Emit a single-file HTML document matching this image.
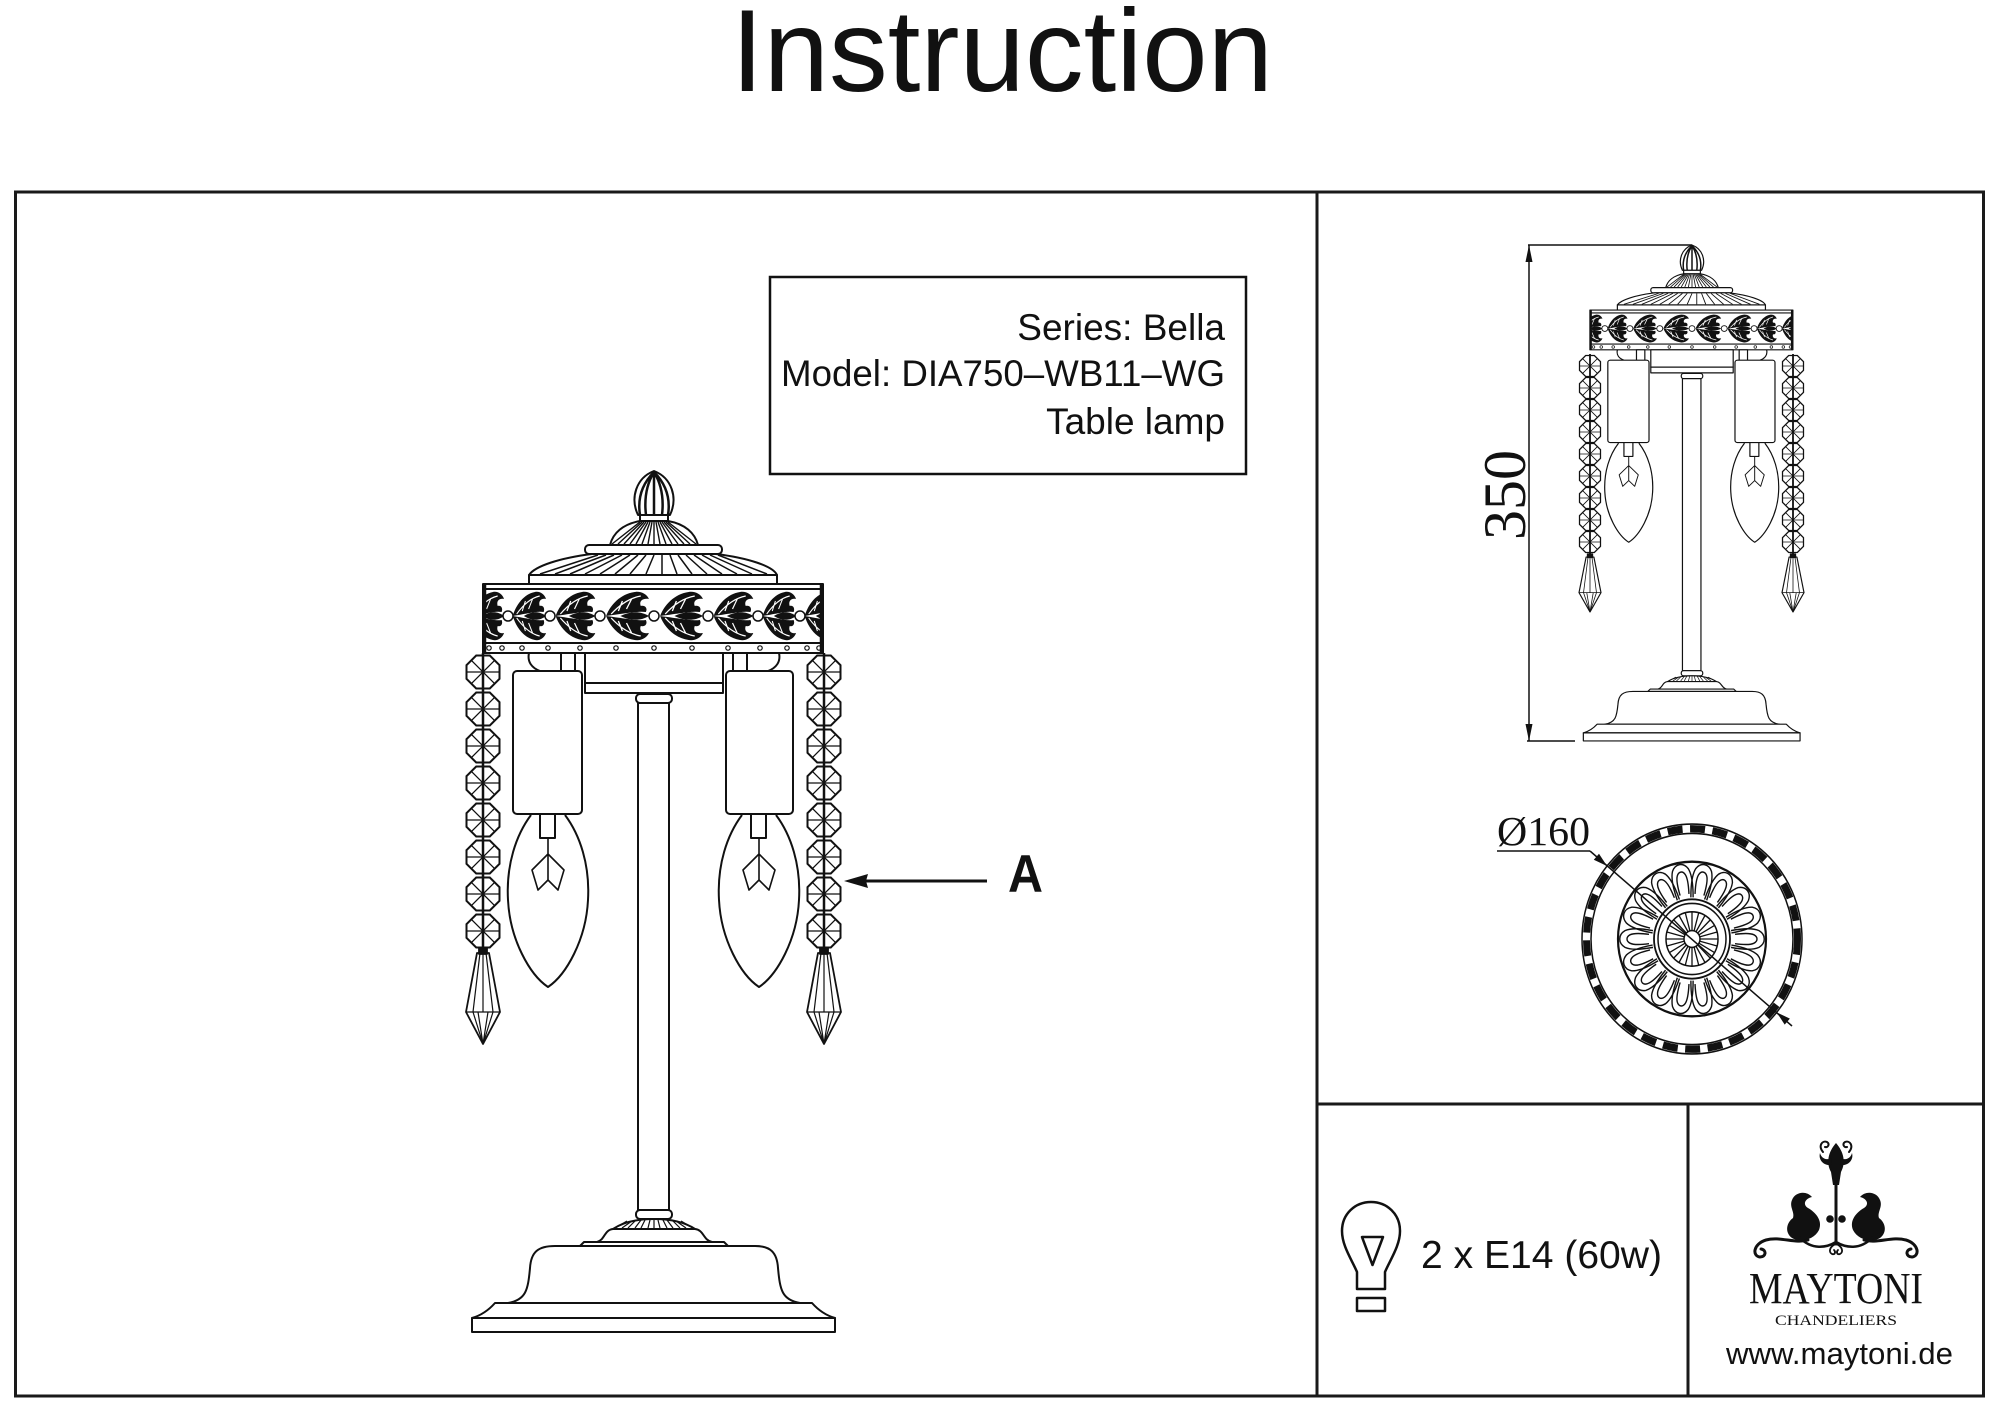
<!DOCTYPE html>
<html><head><meta charset="utf-8"><style>
html,body{margin:0;padding:0;background:#fff;}
svg{display:block;}
.sans{font-family:"Liberation Sans",Arial,sans-serif;}
.serif{font-family:"Liberation Serif","Times New Roman",serif;}
</style></head><body>
<svg width="2000" height="1414" viewBox="0 0 2000 1414" xmlns="http://www.w3.org/2000/svg">
<defs>
<g id="oct"><polygon points="-6.8,-16.5 6.8,-16.5 16.5,-6.8 16.5,6.8 6.8,16.5 -6.8,16.5 -16.5,6.8 -16.5,-6.8" fill="#fff" stroke="#111" stroke-width="2"/><path d="M0,-16.5V16.5M-16.5,0H16.5M-11.7,-11.7L11.7,11.7M11.7,-11.7L-11.7,11.7" stroke="#111" stroke-width="1.3" fill="none"/></g>
<g id="pend" fill="none" stroke="#111" stroke-width="1.8" stroke-linejoin="round"><path fill="#fff" d="M-6,0 L6,0 L17,59 L0,91 L-17,59 Z"/><path d="M-3,0 L-10,59 M0,0 L0,59 M3,0 L10,59 M-17,59 H17 M-10,59 L0,91 M-5,59 L0,91 M5,59 L0,91 M10,59 L0,91" stroke-width="1.2"/><rect x="-4" y="-5" width="8" height="6" fill="#111"/></g>
<g id="bulb" fill="none" stroke="#111" stroke-width="2">
<path d="M-17,1 C-32,21 -42,51 -40,86 C-38,126 -18,161 0,173 C18,161 38,126 40,86 C42,51 32,21 17,1"/>
<rect x="-8" y="0" width="15" height="24" fill="#fff"/>
<path d="M0,24 V66 M0,40 L-16,56 L-10,76 L0,66 L10,76 L16,56 Z" stroke-width="1.6"/>
</g>
<g id="motif">
<path fill="#111" d="M6,27 C10,16 20,5 34,3 C40,2 46,5 48,10 C42,9 38,12 40,17 C44,16 47,19 45,23 C38,22 28,24 6,27 Z"/>
<path fill="#111" d="M6,27 C10,38 20,49 34,51 C40,52 46,49 48,44 C42,45 38,42 40,37 C44,38 47,35 45,31 C38,32 28,30 6,27 Z"/>
<path fill="none" stroke="#fff" stroke-width="1.3" d="M11,25 C20,15 29,9 40,7 M11,29 C20,39 29,45 40,47 M18,22 L22,12 M26,20 L31,10 M18,32 L22,42 M26,34 L31,44"/>
<path fill="#111" d="M20,27 C30,22 40,22 48,27 C40,32 30,32 20,27 Z"/>
</g>
<clipPath id="bandclip"><rect x="484" y="589" width="338" height="54"/></clipPath>
<g id="petal" fill="none" stroke="#111" stroke-width="1.4"><path d="M39,-8 C50,-10 60,-11 67,-8 C74,-4 74,4 67,8 C60,11 50,10 39,8"/><path d="M43,-4.5 C51,-5.5 58,-6 62,-4 C66,-2 66,2 62,4 C58,6 51,5.5 43,4.5"/></g>

<g id="body" fill="none" stroke="#111" stroke-width="2" stroke-linejoin="round">
<path fill="#fff" d="M654,471 C636,478 630,498 638,515 L670,515 C678,498 672,478 654,471 Z"/>
<path stroke-width="2.5" d="M654,472 Q636,490 640,515 M654,472 Q643,490 646,515 M654,472 L654,515 M654,472 Q665,490 662,515 M654,472 Q672,490 668,515"/>
<rect x="640" y="515" width="28" height="6" fill="#fff"/>
<path fill="#fff" d="M640,521 L668,521 C685,524 695,533 698,545 L610,545 C613,533 623,524 640,521 Z"/>
<path stroke-width="1.4" d="M640,522L612,544M642,522L618,544M644,522L624,544M646,522L630,544M648,522L636,544M650,522L642,544M652,522L648,544M654,522L654,544M656,522L660,544M658,522L666,544M660,522L672,544M662,522L678,544M664,522L684,544M666,522L690,544M668,522L696,544"/>
<rect x="585" y="545" width="137" height="9" rx="4" fill="#fff"/>
<path fill="#fff" d="M529,575 C535,566 560,558 592,554 L716,554 C748,558 773,566 777,575 Z"/>
<path stroke-width="1.5" d="M598,555L540,574M606,555L555,574M614,555L570,574M622,555L585,574M630,555L600,574M638,555L615,574M646,555L630,574M654,555L646,574M662,555L662,574M670,555L677,574M678,555L692,574M686,555L707,574M694,555L722,574M702,555L737,574M710,555L752,574M718,555L767,574"/>
<rect x="529" y="575" width="248" height="9" fill="#fff"/>
<rect x="483" y="584" width="340" height="69" fill="#fff"/>
<line x1="483" y1="589" x2="823" y2="589"/>
<g clip-path="url(#bandclip)" stroke="none">
<use href="#motif" transform="translate(466,589) scale(0.792,1)"/>
<use href="#motif" transform="translate(508,589) scale(0.792,1)"/>
<use href="#motif" transform="translate(550,589) scale(0.943,1)"/>
<use href="#motif" transform="translate(600,589) scale(1.019,1)"/>
<use href="#motif" transform="translate(654,589) scale(1.019,1)"/>
<use href="#motif" transform="translate(708,589) scale(0.943,1)"/>
<use href="#motif" transform="translate(758,589) scale(0.792,1)"/>
<use href="#motif" transform="translate(800,589) scale(0.792,1)"/>
</g>
<g fill="#fff" stroke-width="1.5">
<circle cx="508" cy="616" r="5"/><circle cx="550" cy="616" r="5"/><circle cx="600" cy="616" r="5"/><circle cx="654" cy="616" r="5"/><circle cx="708" cy="616" r="5"/><circle cx="758" cy="616" r="5"/><circle cx="800" cy="616" r="5"/>
</g>
<line x1="483" y1="643" x2="823" y2="643"/>
<g fill="#fff" stroke-width="1.2">
<circle cx="489" cy="648" r="2.2"/><circle cx="502" cy="648" r="2.2"/><circle cx="522" cy="648" r="2.2"/><circle cx="548" cy="648" r="2.2"/><circle cx="580" cy="648" r="2.2"/><circle cx="616" cy="648" r="2.2"/><circle cx="654" cy="648" r="2.2"/><circle cx="692" cy="648" r="2.2"/><circle cx="728" cy="648" r="2.2"/><circle cx="760" cy="648" r="2.2"/><circle cx="787" cy="648" r="2.2"/><circle cx="807" cy="648" r="2.2"/><circle cx="819" cy="648" r="2.2"/>
</g>
<line x1="484.5" y1="584" x2="484.5" y2="653" stroke-width="3.5"/>
<line x1="821.5" y1="584" x2="821.5" y2="653" stroke-width="3.5"/>
<path d="M529,653 C527,662 532,668 540,671 M779,653 C781,662 776,668 768,671"/>
<rect x="561" y="653" width="14" height="19" fill="#fff"/>
<rect x="733" y="653" width="14" height="19" fill="#fff"/>
<rect x="585" y="653" width="138" height="30" fill="#fff"/>
<rect x="585" y="683" width="138" height="10" fill="#fff"/>
<rect x="636" y="694" width="36" height="9" rx="4" fill="#fff"/>
<rect x="638" y="703" width="31" height="507" fill="#fff"/>
<rect x="513" y="671" width="69" height="143" rx="4" fill="#fff"/>
<rect x="726" y="671" width="67" height="143" rx="4" fill="#fff"/>
<use href="#bulb" x="548" y="814"/>
<use href="#bulb" x="759" y="814"/>
<rect x="636" y="1210" width="36" height="9" rx="4" fill="#fff"/>
<path fill="#fff" d="M613,1229 C625,1221 640,1219 654,1219 C668,1219 683,1221 695,1229 Z"/>
<path stroke-width="1.2" d="M627,1221L615,1228M632,1221L622,1228M636,1220L628,1228M641,1220L635,1228M645,1220L641,1228M650,1220L648,1228M654,1220L654,1228M658,1220L660,1228M663,1220L667,1228M667,1220L673,1228M672,1220L680,1228M676,1221L686,1228M681,1221L693,1228"/>
<path fill="#fff" d="M597,1242 C605,1240 604,1230 613,1229 L695,1229 C704,1230 703,1240 712,1242 Z"/>
<path fill="#fff" d="M580,1246 L584,1242 L724,1242 L728,1246 Z"/>
<path fill="#fff" d="M555,1246 L755,1246 C770,1246 777,1252 778,1268 C780,1290 782,1300 800,1303 L508,1303 C526,1300 528,1290 530,1268 C531,1252 538,1246 555,1246 Z"/>
<path fill="#fff" d="M495,1303 L812,1303 C820,1312 828,1316 835,1318 L472,1318 C479,1316 487,1312 495,1303 Z"/>
<rect x="472" y="1318" width="363" height="14" fill="#fff"/>
</g>
</defs>

<rect width="2000" height="1414" fill="#fff"/>

<text class="sans" x="731" y="91" font-size="117" textLength="542" lengthAdjust="spacingAndGlyphs" fill="#111">Instruction</text>

<g fill="none" stroke="#1a1a1a" stroke-width="3">
<rect x="15.5" y="192" width="1968" height="1204"/>
<line x1="1317" y1="192" x2="1317" y2="1396"/>
<line x1="1317" y1="1104" x2="1984" y2="1104"/>
<line x1="1688" y1="1104" x2="1688" y2="1396"/>
</g>

<rect x="770" y="277" width="476" height="197" fill="none" stroke="#111" stroke-width="2.5"/>
<g class="sans" font-size="37" fill="#111" text-anchor="end">
<text x="1225" y="340">Series: Bella</text>
<text x="1225" y="386" textLength="444" lengthAdjust="spacingAndGlyphs">Model: DIA750–WB11–WG</text>
<text x="1225" y="434">Table lamp</text>
</g>

<use href="#body"/>
<g>
<use href="#oct" x="483" y="672"/><use href="#oct" x="483" y="709"/><use href="#oct" x="483" y="746"/><use href="#oct" x="483" y="783"/><use href="#oct" x="483" y="820"/><use href="#oct" x="483" y="857"/><use href="#oct" x="483" y="894"/><use href="#oct" x="483" y="931"/>
<use href="#oct" x="824" y="672"/><use href="#oct" x="824" y="709"/><use href="#oct" x="824" y="746"/><use href="#oct" x="824" y="783"/><use href="#oct" x="824" y="820"/><use href="#oct" x="824" y="857"/><use href="#oct" x="824" y="894"/><use href="#oct" x="824" y="931"/>
<line x1="483" y1="653" x2="483" y2="950" stroke="#111" stroke-width="2.5"/>
<line x1="824" y1="653" x2="824" y2="950" stroke="#111" stroke-width="2.5"/>
<use href="#pend" x="483" y="953"/>
<use href="#pend" x="824" y="953"/>
</g>

<line x1="865" y1="881" x2="987" y2="881" stroke="#111" stroke-width="3"/>
<polygon points="844,881 868,874 866,881 868,888" fill="#111"/>
<text class="sans" x="1008" y="892" font-size="53" font-weight="bold" textLength="35" lengthAdjust="spacingAndGlyphs" fill="#111">A</text>

<use href="#body" transform="translate(1692,245) scale(0.597,0.576) translate(-654,-471)"/>
<g>
<use href="#oct" transform="translate(1590,366) scale(0.636)"/><use href="#oct" transform="translate(1590,388) scale(0.636)"/><use href="#oct" transform="translate(1590,410) scale(0.636)"/><use href="#oct" transform="translate(1590,432) scale(0.636)"/><use href="#oct" transform="translate(1590,454) scale(0.636)"/><use href="#oct" transform="translate(1590,476) scale(0.636)"/><use href="#oct" transform="translate(1590,498) scale(0.636)"/><use href="#oct" transform="translate(1590,520) scale(0.636)"/><use href="#oct" transform="translate(1590,542) scale(0.636)"/>
<use href="#oct" transform="translate(1793,366) scale(0.636)"/><use href="#oct" transform="translate(1793,388) scale(0.636)"/><use href="#oct" transform="translate(1793,410) scale(0.636)"/><use href="#oct" transform="translate(1793,432) scale(0.636)"/><use href="#oct" transform="translate(1793,454) scale(0.636)"/><use href="#oct" transform="translate(1793,476) scale(0.636)"/><use href="#oct" transform="translate(1793,498) scale(0.636)"/><use href="#oct" transform="translate(1793,520) scale(0.636)"/><use href="#oct" transform="translate(1793,542) scale(0.636)"/>
<line x1="1590" y1="354" x2="1590" y2="556" stroke="#111" stroke-width="1.8"/>
<line x1="1793" y1="354" x2="1793" y2="556" stroke="#111" stroke-width="1.8"/>
<use href="#pend" transform="translate(1590,557) scale(0.647,0.604)"/>
<use href="#pend" transform="translate(1793,557) scale(0.647,0.604)"/>
</g>

<g stroke="#111" stroke-width="1.5" fill="none">
<line x1="1528" y1="245" x2="1692" y2="245"/>
<line x1="1527" y1="741" x2="1575" y2="741"/>
<line x1="1529" y1="245" x2="1529" y2="741"/>
</g>
<polygon points="1529,245 1525.5,262 1532.5,262" fill="#111"/>
<polygon points="1529,741 1525.5,724 1532.5,724" fill="#111"/>
<text class="serif" transform="translate(1525,495) rotate(-90)" font-size="60" text-anchor="middle" fill="#111">350</text>

<g transform="translate(1692,939) scale(1,1.045)" fill="none" stroke="#111">
<circle r="110" stroke-width="1.5"/>
<circle r="101" stroke-width="1.5"/>
<circle r="105.5" stroke-width="7" stroke-dasharray="15 7.5"/>
<circle r="74" stroke-width="2.2"/>
<use href="#petal" transform="rotate(0)"/><use href="#petal" transform="rotate(20)"/><use href="#petal" transform="rotate(40)"/><use href="#petal" transform="rotate(60)"/><use href="#petal" transform="rotate(80)"/><use href="#petal" transform="rotate(100)"/><use href="#petal" transform="rotate(120)"/><use href="#petal" transform="rotate(140)"/><use href="#petal" transform="rotate(160)"/><use href="#petal" transform="rotate(180)"/><use href="#petal" transform="rotate(200)"/><use href="#petal" transform="rotate(220)"/><use href="#petal" transform="rotate(240)"/><use href="#petal" transform="rotate(260)"/><use href="#petal" transform="rotate(280)"/><use href="#petal" transform="rotate(300)"/><use href="#petal" transform="rotate(320)"/><use href="#petal" transform="rotate(340)"/>
<circle r="38" stroke-width="1.8"/>
<circle r="34" stroke-width="1.5"/>
<circle r="26" stroke-width="1.5"/>
<path stroke-width="1.3" d="M26,0L-26,0M25.1,6.7L-25.1,-6.7M22.5,13L-22.5,-13M18.4,18.4L-18.4,-18.4M13,22.5L-13,-22.5M6.7,25.1L-6.7,-25.1M0,26L0,-26M-6.7,25.1L6.7,-25.1M-13,22.5L13,-22.5M-18.4,18.4L18.4,-18.4M-22.5,13L22.5,-13M-25.1,6.7L25.1,-6.7"/>
<circle r="8" fill="#fff" stroke-width="1.5"/>
</g>
<g stroke="#111" stroke-width="1.5" fill="none">
<line x1="1497" y1="851" x2="1590" y2="851"/>
<line x1="1590" y1="851" x2="1792" y2="1026"/>
</g>
<polygon points="1607,866 1593.8,859.8 1599,853.8" fill="#111"/>
<polygon points="1776.7,1012.4 1789.9,1018.6 1784.7,1024.6" fill="#111"/>
<text class="serif" x="1497" y="845" font-size="41" textLength="93" lengthAdjust="spacingAndGlyphs" fill="#111">Ø160</text>

<g fill="none" stroke="#111" stroke-width="2.5" stroke-linejoin="round">
<path d="M1357,1289 L1357,1272 C1352,1260 1342,1246 1342,1231 C1342,1214 1355,1202 1371,1202 C1387,1202 1400,1214 1400,1231 C1400,1246 1390,1260 1385,1272 L1385,1289 Z"/>
<path d="M1362,1237 L1383,1237 L1372.5,1265 Z"/>
<rect x="1357" y="1298" width="28" height="13"/>
</g>
<text class="sans" x="1421" y="1268" font-size="39" textLength="241" lengthAdjust="spacingAndGlyphs" fill="#111">2 x E14 (60w)</text>

<g fill="#111" stroke="none">
<path d="M1836,1143 C1828,1152 1826,1163 1831,1172 L1833,1185 L1839,1185 L1841,1172 C1846,1163 1844,1152 1836,1143 Z"/>
<path d="M1831,1165 C1824,1166 1818,1160 1820,1153 C1822,1160 1828,1160 1832,1158 Z"/>
<path d="M1841,1165 C1848,1166 1854,1160 1852,1153 C1850,1160 1844,1160 1840,1158 Z"/>
<path d="M1812,1197 C1806,1190 1795,1192 1792,1200 C1789,1207 1795,1212 1793,1218 C1787,1222 1784,1232 1792,1238 C1800,1243 1814,1240 1819,1230 C1823,1220 1815,1212 1808,1208 C1803,1205 1804,1199 1812,1197 Z"/>
<path d="M1860,1197 C1866,1190 1877,1192 1880,1200 C1883,1207 1877,1212 1879,1218 C1885,1222 1888,1232 1880,1238 C1872,1243 1858,1240 1853,1230 C1849,1220 1857,1212 1864,1208 C1869,1205 1868,1199 1860,1197 Z"/>
<circle cx="1830" cy="1219" r="3.8"/><circle cx="1842" cy="1219" r="3.8"/>
</g>
<g fill="none" stroke="#111" stroke-width="3" stroke-linecap="round">
<line x1="1836" y1="1183" x2="1836" y2="1244"/>
<path d="M1823,1152 C1818,1146 1822,1140 1827,1142 C1830,1144 1828,1148 1825,1147" stroke-width="2"/>
<path d="M1849,1152 C1854,1146 1850,1140 1845,1142 C1842,1144 1844,1148 1847,1147" stroke-width="2"/>
<path d="M1808,1240 C1795,1244 1780,1236 1766,1240 C1753,1244 1752,1256 1760,1257 C1766,1257 1767,1250 1761,1249"/>
<path d="M1864,1240 C1877,1244 1892,1236 1906,1240 C1919,1244 1920,1256 1912,1257 C1906,1257 1905,1250 1911,1249"/>
<path d="M1800,1238 C1812,1250 1826,1248 1836,1242 C1846,1248 1860,1250 1872,1238" stroke-width="2.5"/>
<path d="M1836,1244 C1830,1246 1828,1252 1832,1254 C1835,1255 1836,1252 1834,1250 M1836,1244 C1842,1246 1844,1252 1840,1254 C1837,1255 1836,1252 1838,1250" stroke-width="1.8"/>
</g>
<text class="serif" x="1749" y="1303" font-size="44" textLength="174" lengthAdjust="spacingAndGlyphs" fill="#111">MAYTONI</text>
<text class="serif" x="1775" y="1325" font-size="15" textLength="122" lengthAdjust="spacingAndGlyphs" fill="#111">CHANDELIERS</text>
<text class="sans" x="1726" y="1364" font-size="31" textLength="227" lengthAdjust="spacingAndGlyphs" fill="#111">www.maytoni.de</text>
</svg>
</body></html>
